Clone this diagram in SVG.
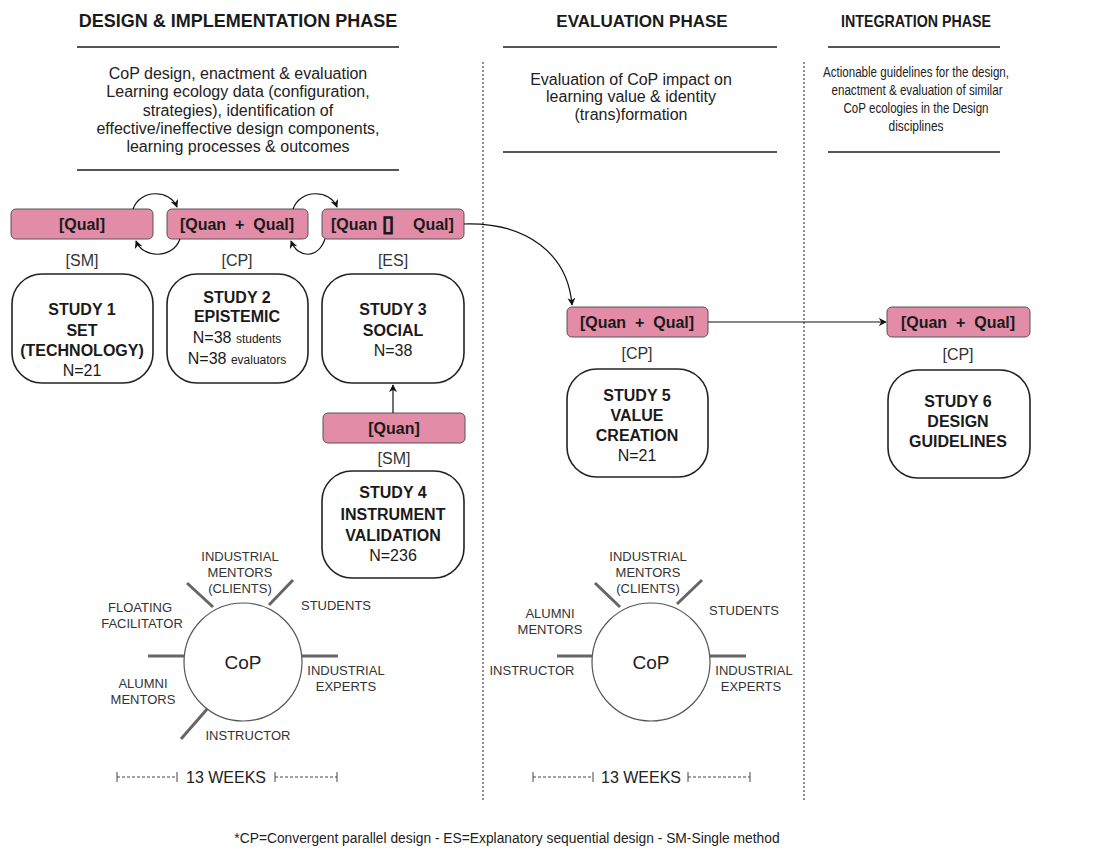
<svg xmlns="http://www.w3.org/2000/svg" width="1105" height="852" viewBox="0 0 1105 852">
  <style>
    text { font-family: "Liberation Sans", Arial, sans-serif; fill: #1a1a1a; }
    .hdr { font-size: 18px; font-weight: bold; text-anchor: middle; }
    .desc { font-size: 16px; text-anchor: middle; fill: #222; }
    .rule { stroke: #555; stroke-width: 2; }
    .divider { stroke: #444; stroke-width: 1.2; stroke-dasharray: 2 2; fill: none; }
    .method rect { fill: #e38ca7; stroke: #555; stroke-width: 1; }
    .method text { font-size: 16px; font-weight: bold; text-anchor: middle; }
    .method .lead { text-anchor: start; }
    .tofu { font-family: "DejaVu Sans", sans-serif; font-size: 22px; stroke: #1a1a1a; stroke-width: 1.3; }
    .design { font-size: 16px; text-anchor: middle; fill: #333; }
    .study rect { fill: #fff; stroke: #222; stroke-width: 1.6; }
    .study text { font-size: 16px; text-anchor: middle; }
    .b { font-weight: bold; }
    .small { font-size: 12px; }
    .conn { fill: none; stroke: #111; stroke-width: 1.2; }
    .spoke { stroke: #666; stroke-width: 3; }
    .ring { fill: #fff; stroke: #555; stroke-width: 1.2; }
    .role { font-size: 13px; text-anchor: middle; fill: #333; }
    .cop { font-size: 19px; text-anchor: middle; fill: #222; }
    .weeks { font-size: 16px; text-anchor: middle; fill: #222; }
    .span { stroke: #444; stroke-width: 1; stroke-dasharray: 3 2; fill: none; }
    .tick { stroke: #444; stroke-width: 1; }
    .note { font-size: 13.8px; text-anchor: middle; fill: #222; }
  </style>
  <defs>
    <marker id="arrow" viewBox="0 0 10 10" refX="9" refY="5" markerWidth="8" markerHeight="8" orient="auto" markerUnits="userSpaceOnUse">
      <path d="M0,0 L10,5 L0,10 L3,5 Z" fill="#111"/>
    </marker>
  </defs>

  <!-- phase headers -->
  <g id="phase-design">
    <text class="hdr" x="238" y="27">DESIGN &amp; IMPLEMENTATION PHASE</text>
    <line class="rule" x1="77" y1="47" x2="399" y2="47"/>
    <text class="desc" x="238" y="79">CoP design, enactment &amp; evaluation</text>
    <text class="desc" x="238" y="97">Learning ecology data (configuration,</text>
    <text class="desc" x="238" y="116">strategies), identification of</text>
    <text class="desc" x="238" y="134">effective/ineffective design components,</text>
    <text class="desc" x="238" y="152">learning processes &amp; outcomes</text>
    <line class="rule" x1="77" y1="170" x2="399" y2="170"/>
  </g>
  <g id="phase-evaluation">
    <text class="hdr" x="642" y="27" style="font-size:17px">EVALUATION PHASE</text>
    <line class="rule" x1="503" y1="47" x2="777" y2="47"/>
    <text class="desc" x="631" y="85">Evaluation of CoP impact on</text>
    <text class="desc" x="631" y="102">learning value &amp; identity</text>
    <text class="desc" x="631" y="120">(trans)formation</text>
    <line class="rule" x1="503" y1="152" x2="777" y2="152"/>
  </g>
  <g id="phase-integration">
    <text class="hdr" x="916" y="27" style="font-size:17px" textLength="150" lengthAdjust="spacingAndGlyphs">INTEGRATION PHASE</text>
    <line class="rule" x1="828" y1="47" x2="1000" y2="47"/>
    <text class="desc" x="916" y="77" style="font-size:15.5px" textLength="186" lengthAdjust="spacingAndGlyphs">Actionable guidelines for the design,</text>
    <text class="desc" x="917" y="95" style="font-size:15.5px" textLength="171" lengthAdjust="spacingAndGlyphs">enactment &amp; evaluation of similar</text>
    <text class="desc" x="916" y="113" style="font-size:15.5px" textLength="145" lengthAdjust="spacingAndGlyphs">CoP ecologies in the Design</text>
    <text class="desc" x="916" y="131" style="font-size:15.5px" textLength="55" lengthAdjust="spacingAndGlyphs">disciplines</text>
    <line class="rule" x1="828" y1="152" x2="1000" y2="152"/>
  </g>

  <!-- phase dividers -->
  <g id="dividers">
    <line class="divider" x1="483" y1="62" x2="483" y2="800"/>
    <line class="divider" x1="804" y1="62" x2="804" y2="800"/>
  </g>

  <!-- method boxes -->
  <g id="m1" class="method">
    <rect x="11" y="209" width="142" height="30" rx="5"/>
    <text x="82" y="230">[Qual]</text>
  </g>
  <g id="m2" class="method">
    <rect x="167" y="209" width="141" height="30" rx="5"/>
    <text x="237" y="230">[Quan&#160;&#160;+&#160;&#160;Qual]</text>
  </g>
  <g id="m3" class="method">
    <rect x="322" y="209" width="142" height="30" rx="5"/>
    <text class="lead" x="331" y="230">[Quan <tspan class="tofu" x="382" y="231">▯</tspan><tspan x="413" y="230">Qual]</tspan></text>
  </g>
  <g id="m4" class="method">
    <rect x="323" y="413" width="142" height="30" rx="5"/>
    <text x="394" y="434">[Quan]</text>
  </g>
  <g id="m5" class="method">
    <rect x="567" y="307" width="141" height="30" rx="5"/>
    <text x="637" y="328">[Quan&#160;&#160;+&#160;&#160;Qual]</text>
  </g>
  <g id="m6" class="method">
    <rect x="887" y="307" width="143" height="30" rx="5"/>
    <text x="958" y="328">[Quan&#160;&#160;+&#160;&#160;Qual]</text>
  </g>

  <!-- design type labels -->
  <g id="design-labels">
    <text class="design" x="82" y="266">[SM]</text>
    <text class="design" x="237" y="266">[CP]</text>
    <text class="design" x="393" y="266">[ES]</text>
    <text class="design" x="394" y="464">[SM]</text>
    <text class="design" x="637" y="359">[CP]</text>
    <text class="design" x="958" y="360">[CP]</text>
  </g>

  <!-- studies -->
  <g id="study1" class="study">
    <rect x="12" y="274" width="141" height="109" rx="30"/>
    <text class="b" x="82" y="315">STUDY 1</text>
    <text class="b" x="82" y="336">SET</text>
    <text class="b" x="82" y="356">(TECHNOLOGY)</text>
    <text x="82" y="376">N=21</text>
  </g>
  <g id="study2" class="study">
    <rect x="167" y="274" width="141" height="109" rx="30"/>
    <text class="b" x="237" y="303">STUDY 2</text>
    <text class="b" x="237" y="322">EPISTEMIC</text>
    <text x="237" y="343">N=38 <tspan class="small">students</tspan></text>
    <text x="237" y="364">N=38 <tspan class="small">evaluators</tspan></text>
  </g>
  <g id="study3" class="study">
    <rect x="322" y="274" width="142" height="109" rx="30"/>
    <text class="b" x="393" y="315">STUDY 3</text>
    <text class="b" x="393" y="336">SOCIAL</text>
    <text x="393" y="356">N=38</text>
  </g>
  <g id="study4" class="study">
    <rect x="322" y="471" width="142" height="107" rx="30"/>
    <text class="b" x="393" y="498">STUDY 4</text>
    <text class="b" x="393" y="520">INSTRUMENT</text>
    <text class="b" x="393" y="541">VALIDATION</text>
    <text x="393" y="561">N=236</text>
  </g>
  <g id="study5" class="study">
    <rect x="567" y="369" width="141" height="108" rx="30"/>
    <text class="b" x="637" y="401">STUDY 5</text>
    <text class="b" x="637" y="421">VALUE</text>
    <text class="b" x="637" y="441">CREATION</text>
    <text x="637" y="461">N=21</text>
  </g>
  <g id="study6" class="study">
    <rect x="888" y="370" width="142" height="108" rx="30"/>
    <text class="b" x="958" y="407">STUDY 6</text>
    <text class="b" x="958" y="427">DESIGN</text>
    <text class="b" x="958" y="447">GUIDELINES</text>
  </g>

  <!-- connectors -->
  <g id="connectors">
    <path class="conn" d="M133,209 C140,189 170,189 177,207" marker-end="url(#arrow)"/>
    <path class="conn" d="M180,239 C173,259 143,259 136,241" marker-end="url(#arrow)"/>
    <path class="conn" d="M293,209 C300,189 330,189 337,207" marker-end="url(#arrow)"/>
    <path class="conn" d="M325,239 C318,259 298,259 291,241" marker-end="url(#arrow)"/>
    <path class="conn" d="M464,224 C528,222 568,255 572,305" marker-end="url(#arrow)"/>
    <path class="conn" d="M708,322 L886,322" marker-end="url(#arrow)"/>
    <path class="conn" d="M393,413 L393,385" marker-end="url(#arrow)"/>
  </g>

  <!-- community of practice, design phase -->
  <g id="cop-design">
    <line class="spoke" x1="187" y1="583" x2="213" y2="607"/>
    <line class="spoke" x1="293" y1="580" x2="269" y2="605"/>
    <line class="spoke" x1="148" y1="656" x2="184" y2="656"/>
    <line class="spoke" x1="302" y1="656" x2="338" y2="656"/>
    <line class="spoke" x1="208" y1="708" x2="181" y2="739"/>
    <circle class="ring" cx="243" cy="662" r="59"/>
    <text class="cop" x="243" y="669">CoP</text>
    <text class="role" x="240" y="561">INDUSTRIAL</text>
    <text class="role" x="240" y="577">MENTORS</text>
    <text class="role" x="240" y="593">(CLIENTS)</text>
    <text class="role" x="336" y="610">STUDENTS</text>
    <text class="role" x="140" y="612">FLOATING</text>
    <text class="role" x="142" y="628">FACILITATOR</text>
    <text class="role" x="346" y="675">INDUSTRIAL</text>
    <text class="role" x="346" y="691">EXPERTS</text>
    <text class="role" x="143" y="688">ALUMNI</text>
    <text class="role" x="143" y="704">MENTORS</text>
    <text class="role" x="248" y="740">INSTRUCTOR</text>
  </g>
  <g id="weeks-design">
    <line class="tick" x1="117" y1="772" x2="117" y2="782"/>
    <line class="span" x1="117" y1="777" x2="177" y2="777"/>
    <line class="tick" x1="177" y1="772" x2="177" y2="782"/>
    <text class="weeks" x="226" y="783">13 WEEKS</text>
    <line class="tick" x1="275" y1="772" x2="275" y2="782"/>
    <line class="span" x1="275" y1="777" x2="337" y2="777"/>
    <line class="tick" x1="337" y1="772" x2="337" y2="782"/>
  </g>

  <!-- community of practice, evaluation phase -->
  <g id="cop-evaluation">
    <line class="spoke" x1="595" y1="583" x2="620" y2="607"/>
    <line class="spoke" x1="702" y1="580" x2="677" y2="604"/>
    <line class="spoke" x1="557" y1="656" x2="592" y2="656"/>
    <line class="spoke" x1="710" y1="656" x2="746" y2="656"/>
    <circle class="ring" cx="651" cy="662" r="59"/>
    <text class="cop" x="651" y="669">CoP</text>
    <text class="role" x="648" y="561">INDUSTRIAL</text>
    <text class="role" x="648" y="577">MENTORS</text>
    <text class="role" x="648" y="593">(CLIENTS)</text>
    <text class="role" x="744" y="615">STUDENTS</text>
    <text class="role" x="550" y="618">ALUMNI</text>
    <text class="role" x="550" y="634">MENTORS</text>
    <text class="role" x="532" y="675">INSTRUCTOR</text>
    <text class="role" x="754" y="675">INDUSTRIAL</text>
    <text class="role" x="751" y="691">EXPERTS</text>
  </g>
  <g id="weeks-evaluation">
    <line class="tick" x1="533" y1="772" x2="533" y2="782"/>
    <line class="span" x1="533" y1="777" x2="593" y2="777"/>
    <line class="tick" x1="593" y1="772" x2="593" y2="782"/>
    <text class="weeks" x="641" y="783">13 WEEKS</text>
    <line class="tick" x1="688" y1="772" x2="688" y2="782"/>
    <line class="span" x1="688" y1="777" x2="750" y2="777"/>
    <line class="tick" x1="750" y1="772" x2="750" y2="782"/>
  </g>

  <!-- legend -->
  <g id="legend">
    <text class="note" x="507" y="843">*CP=Convergent parallel design - ES=Explanatory sequential design - SM-Single method</text>
  </g>
</svg>
